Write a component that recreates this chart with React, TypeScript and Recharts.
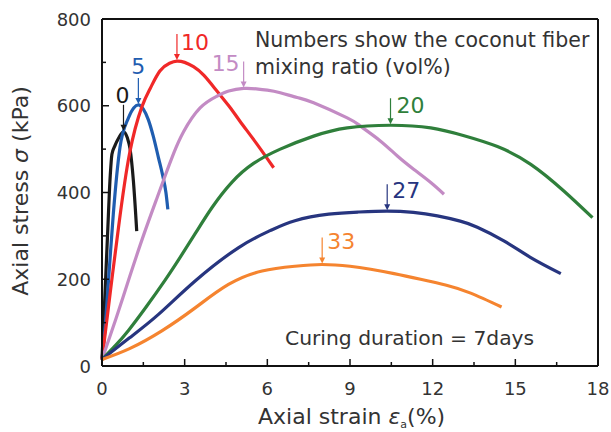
import React from "react";
import {
  LineChart,
  Line,
  XAxis,
  YAxis,
  ReferenceDot,
  Customized,
} from "recharts";

const strainTicks = [0, 1.5, 3, 4.5, 6, 7.5, 9, 10.5, 12, 13.5, 15, 16.5, 18];
const stressTicks = [0, 100, 200, 300, 400, 500, 600, 700, 800];

// axial strain (%) / axial stress (kPa), one pair per fiber ratio
const strain0 = [0, 0.1, 0.2, 0.3, 0.36, 0.47, 0.6, 0.78, 0.92, 1.02, 1.14, 1.26];
const stress0 = [15, 155, 300, 440, 488, 508, 525, 540, 526, 500, 426, 311];

const strain5 = [0, 0.12, 0.25, 0.41, 0.65, 0.96, 1.15, 1.32, 1.5, 1.68, 1.86, 2.05, 2.2, 2.32, 2.39];
const stress5 = [15, 95, 210, 350, 503, 572, 595, 602, 592, 568, 530, 480, 440, 400, 361];

const strain10 = [0, 0.3, 0.6, 1.0, 1.45, 1.75, 2.1, 2.45, 2.72, 3.0, 3.32, 3.7, 4.17, 4.6, 5.0, 5.63, 6.23];
const stress10 = [15, 170, 320, 490, 598, 640, 680, 698, 703, 700, 690, 670, 634, 600, 565, 511, 457];

const strain15 = [0, 0.5, 1.0, 1.5, 2.0, 2.3, 2.6, 2.96, 3.56, 4.17, 4.6, 5.14, 5.6, 6.0, 6.47, 7.08, 7.68, 8.9, 9.38, 10.1, 10.72, 11.32, 11.93, 12.41];
const stress15 = [15, 108, 205, 300, 388, 440, 490, 540, 595, 622, 634, 640, 639, 636, 630, 619, 607, 572, 553, 519, 484, 453, 423, 396];

const strain20 = [0, 0.5, 0.96, 1.6, 2.29, 2.8, 3.38, 4.0, 4.72, 5.5, 6.47, 7.68, 8.9, 10.47, 11.93, 13.14, 14.35, 15.56, 16.77, 17.8];
const stress20 = [15, 48, 82, 136, 198, 247, 305, 366, 424, 467, 500, 530, 549, 555, 549, 531, 506, 465, 403, 342];

const strain27 = [0, 1.0, 2.05, 3.38, 4.96, 6.1, 7.0, 8.23, 9.3, 10.35, 11.3, 12.17, 13.0, 13.62, 14.6, 15.56, 16.65];
const stress27 = [15, 65, 119, 196, 273, 312, 335, 350, 355, 357, 354, 346, 334, 320, 288, 250, 213];

const strain33 = [0, 1.0, 2.17, 3.38, 4.59, 5.81, 7.0, 7.99, 9.0, 9.75, 10.6, 11.56, 12.5, 13.38, 14.5];
const stress33 = [15, 40, 81, 134, 188, 219, 230, 234, 230, 223, 213, 200, 186, 168, 136];

const ratios = ["0", "5", "10", "15", "20", "27", "33"];
const strains = [strain0, strain5, strain10, strain15, strain20, strain27, strain33];
const stresses = [stress0, stress5, stress10, stress15, stress20, stress27, stress33];

const colors = ["#1a1a1a", "#1f5db0", "#f02828", "#c38bc4", "#2f7f3b", "#27357f", "#f5842f"];
const curves = ["monotone", "monotone", "natural", "natural", "natural", "natural", "natural"];

// where each ratio label sits relative to its peak arrow
const labelSpots: Record<string, { anchor: string; dx: number; dy: number }> = {
  "0": { anchor: "middle", dx: -1, dy: -29 },
  "5": { anchor: "middle", dx: 0, dy: -31 },
  "10": { anchor: "start", dx: 4, dy: -11 },
  "15": { anchor: "end", dx: -4, dy: -17 },
  "20": { anchor: "start", dx: 6, dy: -12 },
  "27": { anchor: "start", dx: 5, dy: -13 },
  "33": { anchor: "start", dx: 5, dy: -16 },
};

const font = "'DejaVu Sans', sans-serif";
const ink = "#333";
const frame = "#111";

const series = ratios.map((r, i) => {
  const pts = strains[i].map((x, j) => ({ x, y: stresses[i][j] }));
  const peak = pts.reduce((a, b) => (b.y > a.y ? b : a));
  return { ratio: r, color: colors[i], curve: curves[i], pts, peak };
});

const BottomTick = (p: any) => {
  const v = p.payload.value;
  const major = v % 3 === 0;
  return (
    <g>
      <line x1={p.x} x2={p.x} y1={p.y} y2={p.y - (major ? 7 : 4)} stroke={frame} strokeWidth={1.5} />
      {major && (
        <text x={p.x} y={p.y + 29} textAnchor="middle" fontSize={18} fontFamily={font} fill={ink}>
          {v}
        </text>
      )}
    </g>
  );
};

const TopTick = (p: any) => {
  const major = p.payload.value % 3 === 0;
  return <line x1={p.x} x2={p.x} y1={p.y} y2={p.y + (major ? 7 : 4)} stroke={frame} strokeWidth={1.5} />;
};

const LeftTick = (p: any) => {
  const v = p.payload.value;
  const major = v % 200 === 0;
  return (
    <g>
      <line x1={p.x} x2={p.x + (major ? 7 : 4)} y1={p.y} y2={p.y} stroke={frame} strokeWidth={1.5} />
      {major && (
        <text x={p.x - 11} y={p.y + 6.5} textAnchor="end" fontSize={18} fontFamily={font} fill={ink}>
          {v}
        </text>
      )}
    </g>
  );
};

const RightTick = (p: any) => {
  const major = p.payload.value % 200 === 0;
  return <line x1={p.x} x2={p.x - (major ? 7 : 4)} y1={p.y} y2={p.y} stroke={frame} strokeWidth={1.5} />;
};

const PeakMark = (color: string, ratio: string) => (p: any) => {
  const { cx, cy } = p;
  const s = labelSpots[ratio];
  return (
    <g>
      <line x1={cx} x2={cx} y1={cy - 27} y2={cy - 6} stroke={color} strokeWidth={1.2} />
      <path d={`M${cx - 3},${cy - 7} L${cx + 3},${cy - 7} L${cx},${cy - 1} Z`} fill={color} />
      <text x={cx + s.dx} y={cy + s.dy} textAnchor={s.anchor} fontSize={22} fontFamily={font} fill={color}>
        {ratio}
      </text>
    </g>
  );
};

const Notes = () => (
  <g fontFamily={font} fill={ink}>
    <text x={255} y={47} fontSize={20.5}>Numbers show the coconut fiber</text>
    <text x={255} y={74} fontSize={20.5}>mixing ratio (vol%)</text>
    <text x={285} y={345} fontSize={20.3}>Curing duration = 7days</text>
    <text x={258} y={424} fontSize={22}>
      Axial strain <tspan fontStyle="italic">ε</tspan>
      <tspan fontSize={11} dy={4}>a</tspan>
      <tspan dy={-4}>(%)</tspan>
    </text>
    <text x={28} y={191} fontSize={22} textAnchor="middle" transform="rotate(-90 28 191)">
      Axial stress <tspan fontStyle="italic">σ</tspan> (kPa)
    </text>
  </g>
);

export default function App() {
  return (
    <div style={{ position: "absolute", left: 0, top: 0, background: "#fff" }}>
      <LineChart width={611} height={432} margin={{ top: 0, right: 0, bottom: 0, left: 0 }}>
        <XAxis
          xAxisId="b"
          type="number"
          dataKey="x"
          domain={[0, 18]}
          ticks={strainTicks}
          interval={0}
          tickSize={0}
          tickMargin={0}
          tickLine={false}
          tick={BottomTick}
          height={66}
          axisLine={{ stroke: frame, strokeWidth: 2 }}
        />
        <XAxis
          xAxisId="t"
          orientation="top"
          type="number"
          domain={[0, 18]}
          ticks={strainTicks}
          interval={0}
          tickSize={0}
          tickMargin={0}
          tickLine={false}
          tick={TopTick}
          height={19}
          axisLine={{ stroke: frame, strokeWidth: 2 }}
        />
        <YAxis
          yAxisId="l"
          type="number"
          domain={[0, 800]}
          ticks={stressTicks}
          interval={0}
          tickSize={0}
          tickMargin={0}
          tickLine={false}
          tick={LeftTick}
          width={102}
          axisLine={{ stroke: frame, strokeWidth: 2 }}
        />
        <YAxis
          yAxisId="r"
          orientation="right"
          type="number"
          domain={[0, 800]}
          ticks={stressTicks}
          interval={0}
          tickSize={0}
          tickMargin={0}
          tickLine={false}
          tick={RightTick}
          width={13}
          axisLine={{ stroke: frame, strokeWidth: 2 }}
        />
        {series.map((s) => (
          <Line
            key={s.ratio}
            xAxisId="b"
            yAxisId="l"
            data={s.pts}
            dataKey="y"
            type={s.curve as any}
            stroke={s.color}
            strokeWidth={3.2}
            dot={false}
            activeDot={false}
            isAnimationActive={false}
          />
        ))}
        {series.map((s) => (
          <ReferenceDot
            key={"p" + s.ratio}
            xAxisId="b"
            yAxisId="l"
            x={s.peak.x}
            y={s.peak.y}
            r={0}
            shape={PeakMark(s.color, s.ratio)}
          />
        ))}
        <Customized component={Notes} />
      </LineChart>
    </div>
  );
}
